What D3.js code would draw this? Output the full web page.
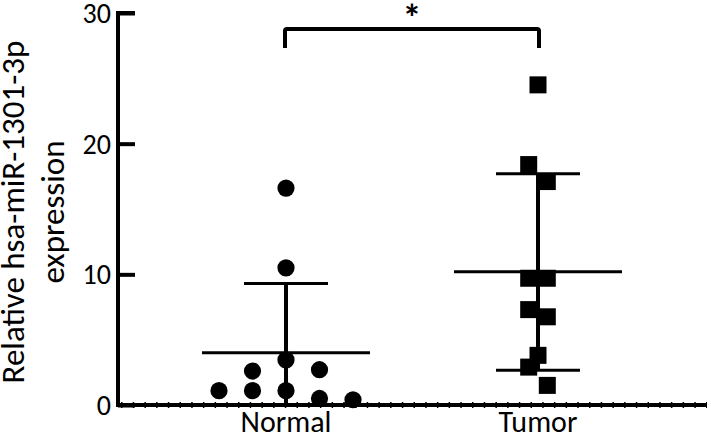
<!DOCTYPE html>
<html><head><meta charset="utf-8">
<script src="https://cdn.jsdelivr.net/npm/d3@7"></script>
<style>body{margin:0;background:#fff}svg{display:block}</style>
</head><body>
<svg id="c" width="711" height="437"></svg>
<script>
const groups = ["Normal", "Tumor"];
const normalValues = [16.6, 10.5, 3.45, 2.6, 2.7, 1.1, 1.1, 1.1, 0.5, 0.4];
const normalCols   = [0, 0, 0, -1, 1, -2, -1, 0, 1, 2];
const tumorValues  = [24.5, 18.4, 17.1, 9.7, 9.7, 7.3, 6.75, 3.8, 2.9, 1.5];
const tumorCols    = [0, -1, 1, -1, 1, -1, 1, 0, -1, 1];
const means = [4.0, 10.2];
const sdUpper = [9.3, 17.7];
const sdLower = [-1.3, 2.65];
const yTicks = [0, 10, 20, 30];
const yLabel = ["Relative hsa-miR-1301-3p", "expression"];
const sigLabel = "*";

const svg = d3.select("#c");
const font = "Carlito, Calibri, Lato, sans-serif";
const x = d3.scalePoint().domain(groups).range([286, 538]);
const y = d3.scaleLinear().domain([0, 30]).range([405, 13]);
const y0 = y(0);

// y axis
const yAx = svg.append("g").attr("transform", "translate(118,0)")
  .call(d3.axisRight(y).tickValues(yTicks).tickSize(17).tickFormat(""));
yAx.select(".domain").attr("d", `M17,${y(30)}H0V${y0}`).attr("stroke", "#000").attr("stroke-width", 4);
yAx.selectAll(".tick line").attr("stroke", "#000").attr("stroke-width", 4);
svg.append("g").selectAll("text").data(yTicks).join("text")
  .attr("x", 111).attr("y", d => y(d)).attr("dy", "0.36em")
  .attr("text-anchor", "end").attr("font-family", font).attr("font-size", 28)
  .text(d => d);

// x baseline
svg.append("line").attr("x1", 116).attr("x2", 707).attr("y1", y0).attr("y2", y0)
  .attr("stroke", "#000").attr("stroke-width", 4);
svg.append("line").attr("x1", 121).attr("x2", 707).attr("y1", y0).attr("y2", y0)
  .attr("stroke", "#000").attr("stroke-width", 6).attr("stroke-dasharray", "1.5,10.2");

// x labels
svg.append("g").selectAll("text").data(groups).join("text")
  .attr("x", d => x(d)).attr("y", 432).attr("text-anchor", "middle")
  .attr("font-family", font).attr("font-size", 30).text(d => d);

// y label
svg.append("text").attr("transform", "translate(0,212) rotate(-90)")
  .attr("text-anchor", "middle").attr("font-family", font).attr("font-size", 33)
  .selectAll("tspan").data(yLabel).join("tspan")
  .attr("x", 0).attr("y", (d, i) => 24 + i * 40).text(d => d);

// error bars and means
const clampY = v => y(Math.max(0, v));
groups.forEach((g, i) => {
  const cx = x(g);
  svg.append("line").attr("x1", cx).attr("x2", cx).attr("y1", clampY(sdUpper[i])).attr("y2", clampY(sdLower[i]))
    .attr("stroke", "#000").attr("stroke-width", 4);
  svg.append("line").attr("x1", cx - 42).attr("x2", cx + 42).attr("y1", y(sdUpper[i])).attr("y2", y(sdUpper[i]))
    .attr("stroke", "#000").attr("stroke-width", 3);
  if (sdLower[i] > 0)
    svg.append("line").attr("x1", cx - 42).attr("x2", cx + 42).attr("y1", y(sdLower[i])).attr("y2", y(sdLower[i]))
      .attr("stroke", "#000").attr("stroke-width", 3);
  svg.append("line").attr("x1", cx - 84).attr("x2", cx + 84).attr("y1", y(means[i])).attr("y2", y(means[i]))
    .attr("stroke", "#000").attr("stroke-width", 3);
});

// points
svg.append("g").selectAll("circle").data(normalValues).join("circle")
  .attr("cx", (d, i) => x("Normal") + normalCols[i] * 33.5).attr("cy", d => y(d))
  .attr("r", 8.6).attr("fill", "#000");
svg.append("g").selectAll("rect").data(tumorValues).join("rect")
  .attr("x", (d, i) => x("Tumor") + tumorCols[i] * 9.3 - 8.5).attr("y", d => y(d) - 8.5)
  .attr("width", 17).attr("height", 17).attr("fill", "#000");

// significance bracket
svg.append("path")
  .attr("d", `M${x("Normal") - 1},48V31Q${x("Normal") - 1},29 ${x("Normal") + 1},29H${x("Tumor") - 1}Q${x("Tumor") + 1},29 ${x("Tumor") + 1},31V48`)
  .attr("fill", "none").attr("stroke", "#000").attr("stroke-width", 4);
svg.append("text").attr("x", (x("Normal") + x("Tumor")) / 2).attr("y", 31)
  .attr("text-anchor", "middle").attr("font-family", font).attr("font-weight", "bold")
  .attr("font-size", 38).text(sigLabel);
</script>
</body></html>
